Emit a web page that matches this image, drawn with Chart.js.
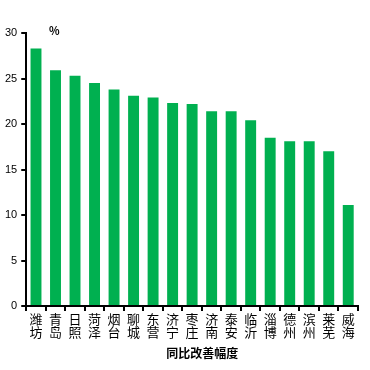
<!DOCTYPE html>
<html>
<head>
<meta charset="utf-8">
<script src="https://cdn.jsdelivr.net/npm/chart.js@4"></script>
<style>
  html, body { margin: 0; padding: 0; background: #fff; }
  #wrap { width: 370px; height: 370px; }
</style>
</head>
<body>
<div id="wrap"><canvas id="chart" width="370" height="370"></canvas></div>
<script>
// cities (two characters stacked), improvement in %
const cities = ["潍坊", "青岛", "日照", "菏泽", "烟台", "聊城", "东营", "济宁", "枣庄",
  "济南", "泰安", "临沂", "淄博", "德州", "滨州", "莱芜", "威海"];
const values = [28.3, 25.9, 25.3, 24.5, 23.8, 23.1, 22.9, 22.3, 22.2,
  21.4, 21.4, 20.4, 18.5, 18.1, 18.1, 17.0, 11.1];
const yTicks = [0, 5, 10, 15, 20, 25, 30];

const cjk = '"Noto Sans CJK SC", "Noto Sans", sans-serif';

// "%" unit and the x axis caption
const extraText = {
  id: "extraText",
  afterDraw(chart) {
    const ctx = chart.ctx;
    const area = chart.chartArea;
    ctx.save();
    ctx.fillStyle = "#000";
    ctx.font = "bold 11px " + cjk;
    ctx.textAlign = "center";
    ctx.textBaseline = "middle";
    ctx.fillText("%", area.left + 28, area.top - 2);
    ctx.font = "bold 12px " + cjk;
    ctx.fillText("同比改善幅度", area.left + 176, 353);
    ctx.restore();
  }
};

new Chart(document.getElementById("chart"), {
  type: "bar",
  data: {
    labels: cities.map(c => c.split("")),
    datasets: [{
      data: values,
      backgroundColor: "#00B050",
      barPercentage: 0.56,
      categoryPercentage: 1
    }]
  },
  options: {
    responsive: false,
    animation: false,
    layout: { padding: { top: 33, right: 12, bottom: 29, left: 1 } },
    plugins: { legend: { display: false }, tooltip: { enabled: false } },
    scales: {
      x: {
        offset: true,
        grid: { offset: true, drawOnChartArea: false, color: "#000", lineWidth: 2, tickLength: 5 },
        border: { color: "#000", width: 2 },
        ticks: {
          color: "#000",
          font: { family: cjk, size: 13, lineHeight: 1.0 },
          maxRotation: 0,
          autoSkip: false,
          padding: 2
        }
      },
      y: {
        min: 0,
        max: 30,
        afterBuildTicks(axis) { axis.ticks = yTicks.map(v => ({ value: v })); },
        grid: { drawOnChartArea: false, color: "#000", lineWidth: 2, tickLength: 5 },
        border: { color: "#000", width: 2 },
        ticks: {
          color: "#000",
          font: { family: '"Liberation Sans", Arial, sans-serif', size: 11 },
          padding: 4
        }
      }
    }
  },
  plugins: [extraText]
});
</script>
</body>
</html>
